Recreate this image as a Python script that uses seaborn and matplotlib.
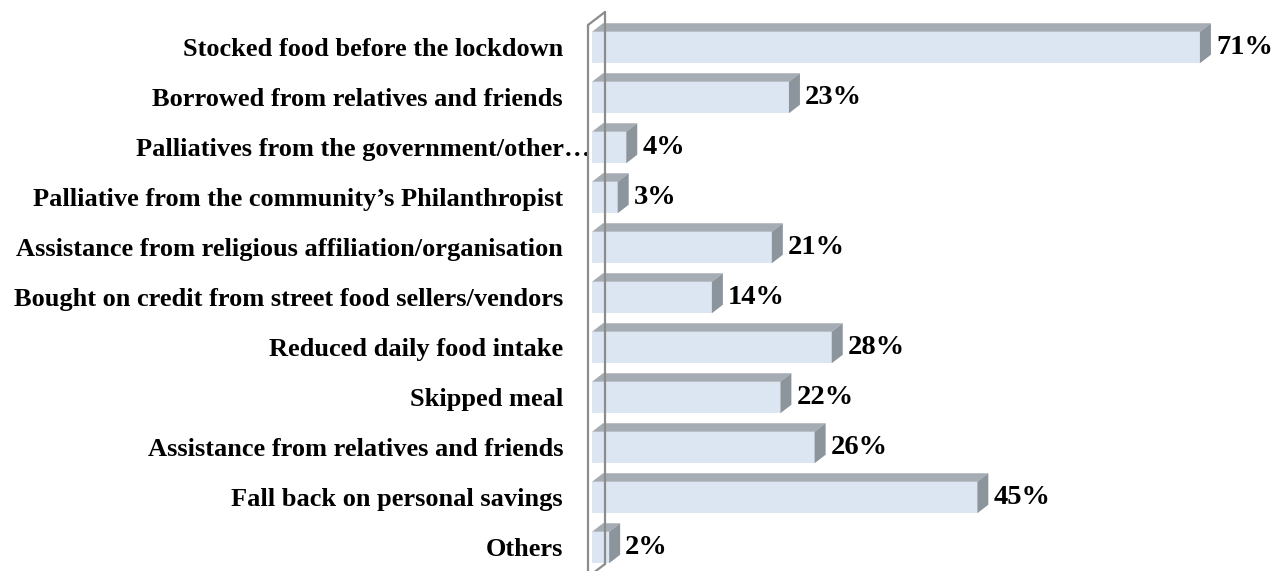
import matplotlib
matplotlib.use("Agg")
import matplotlib.pyplot as plt
import pandas as pd
import seaborn as sns
from matplotlib.patches import Polygon
from matplotlib.lines import Line2D
from matplotlib.transforms import IdentityTransform, blended_transform_factory

# Coping strategies and share of respondents (%)
categories = [
    "Stocked food before the lockdown",
    "Borrowed from relatives and friends",
    "Palliatives from the government/other\u2026",
    "Palliative from the community\u2019s Philanthropist",
    "Assistance from religious affiliation/organisation",
    "Bought on credit from street food sellers/vendors",
    "Reduced daily food intake",
    "Skipped meal",
    "Assistance from relatives and friends",
    "Fall back on personal savings",
    "Others",
]
shares = [71, 23, 4, 3, 21, 14, 28, 22, 26, 45, 2]
value_labels = [f"{v}%" for v in shares]

W, H, DPI = 1277, 571, 100
FRONT = "#DCE6F2"
TOP = "#A6ACB3"
SIDE = "#8C949C"
WALL = "#8C8C8C"
DX, DY = 11, 8.5          # depth offset of the 3-D faces, pixels
PT = 72 / DPI             # points per pixel

sns.set_theme(style="white")
plt.rcParams["font.family"] = ["Liberation Serif", "DejaVu Serif"]
plt.rcParams["font.weight"] = "bold"

fig = plt.figure(figsize=(W / DPI, H / DPI), dpi=DPI)
fig.patch.set_facecolor("white")
ax_left, ax_w = 592, 685
ax = fig.add_axes([ax_left / W, 0, ax_w / W, 1])

df = pd.DataFrame({"option": categories, "share": shares})
sns.barplot(data=df, y="option", x="share", orient="h", color=FRONT,
            saturation=1, width=0.63, linewidth=0, ax=ax, zorder=3)

ax.set_xlim(0, 80)
ax.set_ylim(10.47, -0.95)
ax.axis("off")

# 3-D top and side faces of each bar
ident = IdentityTransform()
for p in ax.patches:
    x0, y0 = p.get_x(), p.get_y()
    x1, y1 = x0 + p.get_width(), y0 + p.get_height()
    (px0, pyt) = ax.transData.transform((x0, y0))
    (px1, pyb) = ax.transData.transform((x1, y1))
    top = Polygon([(px0, pyt), (px1, pyt), (px1 + DX, pyt + DY), (px0 + DX, pyt + DY)],
                  closed=True, facecolor=TOP, edgecolor="none",
                  transform=ident, zorder=3, clip_on=False)
    side = Polygon([(px1, pyt), (px1, pyb), (px1 + DX, pyb + DY), (px1 + DX, pyt + DY)],
                   closed=True, facecolor=SIDE, edgecolor="none",
                   transform=ident, zorder=3, clip_on=False)
    ax.add_artist(top)
    ax.add_artist(side)

# Left wall of the 3-D plot area
wf, wb = ax_left - 4, ax_left + 13
for xs, ys, z in [
    ((wf, wf), (H - 25, -6), 4),
    ((wf, wb), (H - 25, H - 12), 4),
    ((wb, wb), (H - 12, 7), 1),
    ((wf, wb), (-6, 7), 4),
]:
    fig.add_artist(Line2D(xs, ys, color=WALL, lw=1.6, transform=ident, zorder=z))

# Category labels
lab_tr = blended_transform_factory(ax.transAxes, ax.transData)
for i, name in enumerate(categories):
    xoff = -2 if name.endswith("\u2026") else -29
    ax.annotate(name, xy=(xoff / ax_w, i), xycoords=lab_tr,
                xytext=(0, -2 * PT), textcoords="offset points",
                ha="right", va="center", fontsize=19, fontweight="bold",
                color="black")

# Value labels
for i, (v, lbl) in enumerate(zip(shares, value_labels)):
    ax.annotate(lbl, xy=(v, i), xytext=((DX + 5) * PT, -0.5 * PT),
                textcoords="offset points", ha="left", va="center",
                fontsize=20.5, fontweight="bold", color="black")

fig.savefig("out.png", dpi=DPI, facecolor="white")
